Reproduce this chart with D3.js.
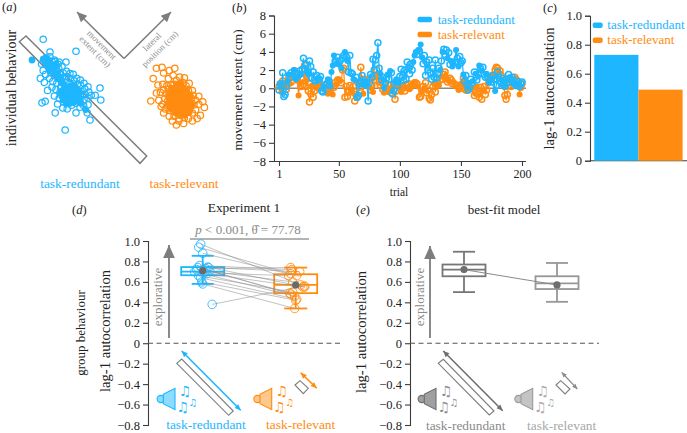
<!DOCTYPE html>
<html><head><meta charset="utf-8">
<style>html,body{margin:0;padding:0;background:#fff}svg{display:block}text{font-family:"Liberation Serif",serif}</style>
<script src="https://cdn.jsdelivr.net/npm/d3@7"></script></head><body><div id="c"></div>
<script>
const BLUE="#1db6ff",ORANGE="#ff8c10",GREY="#7d7d7d",AX="#3c3c3c";
const taskLabels=["task-redundant","task-relevant"];

// (a) scatter: lateral / extent offsets from each cluster's centre
const scatterRedundant=[[-6.2,12.2],[2,9.2],[-.7,-10.5],[8,0],[8.2,-3],[6.8,-1.8],[5.8,-1.8],[-6.5,-3.7],[-5.7,-3.3],[-3.2,-6.2],[2,-6.2],[4.8,-6.2],[5.5,-8],[5,-4.2],[-4.5,9],[-.5,6.5],[-2.2,6.5],
[-6.6,6],[-6.2,4.4],[-6.9,2.4],[-5.9,1.4],[-5.6,3.4],[-5.2,7.2],[-5,6],[-4.6,5],[-4.5,7.8],[-4,6.6],[-3.8,5.4],[-4.3,3.8],[-4.6,2.4],[-3.4,7],[-3.1,5.8],[-3,4.5],[-3.4,3.2],[-3.8,1.6],[-4,.2],[-5.1,-.6],[-2.5,6],[-2.3,4.8],[-2.1,3.6],[-2.4,2.4],[-2.8,1.2],[-3,-.4],[-3.4,-2],[-1.5,5.4],[-1.2,3.8],[-1.4,2.6],[-1.6,1.4],[-1.8,.2],[-2,-1],[-2.2,-2.6],[-2.6,-4],[-.4,4.2],[-.3,2.8],[-.5,1.4],[-.6,.2],[-.8,-1],[-1,-2.2],[-1.2,-3.4],[-1.3,-5],[.5,3.6],[.6,2.4],[.5,1.2],[.3,0],[.2,-1.2],[0,-2.4],[-.1,-3.6],[-.2,-5.2],[1.3,3.4],[1.5,1.8],[1.4,.6],[1.3,-.6],[1.1,-1.8],[1,-3],[.9,-4.3],[2.2,2.4],[2.4,1],[2.3,-.3],[2.2,-1.4],[2.1,-2.6],[2,-3.8],[3.1,2],[3.2,.6],[3.3,-.8],[3.1,-2],[2.9,-3.4],[3,-4.8],[4,1.2],[4.2,-.2],[4.2,-1.6],[4,-2.9],[3.9,-4.4],[5,.3],[5.2,-1],[5,-2.5],[-1,-.4],[0,-.8],[.8,-1.2],[1.6,-1.6],[-.6,-1.8],[.4,-2.4],[1.4,-2.8],[2.6,-1],[-.2,-.2],[-4.2,4.4],[-3.6,4],[-3.2,6.6],[-4.8,5.6]];
const scatterRedundantFilled=[[-9,7],[-5.4,6.2],[-5,5.4],[-4.5,6.4],[-4,5.8],[-4,4.8],[-3.5,5],[-4.8,6.8],[-3,3.8],[-1,-.8],[-.4,-1.6],[.3,-1],[1,-.8],[1.2,-1.8],[.4,-2],[-.2,-2.6],[.8,-2.8],[1.8,-1.4],[2,-.6],[-.6,-3.2],[.2,-3.4],[-1.2,-1.8],[1.6,-2.6],[-.1,-.4],[4.4,-5.4],[3.2,-3.8],
[-6.2,7.2],[-5.8,6.6],[-5.6,7.6],[-5.2,7],[-4.9,6.4],[-4.4,5.6],[-3.9,5.2],[-3.4,4.4],[-3.2,5.4],[-2.6,3.6],[-2.2,2.8],[-1.8,2.2],[-1.4,1.4],[-1,.8],[-.5,.2],[.4,.4],[1.2,.2],[2,-.2],[2.8,-1],[2.6,-2],[2.2,-2.8],[1.4,-3.4],[.6,-3.8],[-.4,-4],[-1.2,-3],[-1.6,-2],[-1.8,-1],[3.1,-2.7],[1.8,-3.4]];
const scatterRelevant=[[-6.8,-1],[-6.2,4.6],[-5.4,7.2],[-4,7.4],[-3.6,6],[-2.2,6.6],[-.8,7.2],[-5,3],[-5.4,1],[-3.8,3.2],[-3.6,1.8],[-2.4,4.6],[-1.2,5.4],[.4,5],[1.6,4.8],[2.8,3.4],[-4.8,-.8],[-4.2,-2.4],[-3.6,-4],[-3.3,-.4],[-2.4,2],[-1,3.2],[.6,3.4],[2,2.8],[3.6,1.6],[-2.6,-2.2],[-2.2,-4.8],[-1.4,-6],[-.4,-7],[.2,-5.4],[1.4,-6.6],[2.6,-5.4],[3.6,-6],[4.8,-5.4],[5.6,-4.6],[6.6,-2.6],[6.2,-1.2],[5.2,.2],[4.4,-.8],[4.4,-3.2],[3.6,-4],[2.6,-3],[3.2,-1.4],[2.2,.4],[1.2,1.8],[-.1,1.8],[-1.4,1.4],[-2.2,.2],[-1.6,-1],[-1.4,-3],[-.2,-4],[1,-4.2],[1.8,-2.4],[1,-.8],[-.1,-.2],[.6,.6],[-.8,.4],[-1,-2],[.2,-2.2],[-2.6,-1],[-3,.8],[3.8,.4],[-1.8,3],[-.4,4.2],[.8,-3],[2.2,-1.6],[-3.8,-1.8],[-2,-3.4],[4,-2],[5.2,-1.8],[3,-2.4],[1.6,-5.2],[.2,-6],[-1,-4.8],[2.6,1.6],[-2.8,2.8],[-1,2],[.2,2.8],[1.4,.6],[-.4,-1.2],[.6,-1.6],[-1.6,.2],[.1,.9],[2.9,.4],[3.4,-.4],[-3.2,-3],[1.2,3.6],[-4.4,1.2]];
const scatterRelevantFilled=[[-1.2,1],[-.6,1.8],[0,1.2],[.6,1.6],[1.2,1],[-1.2,-.2],[-.4,.2],[.4,.2],[1.2,.1],[2,.6],[-1.6,-1.4],[-.8,-.8],[0,-.9],[.8,-.6],[1.6,-.8],[2.4,-.6],[-1,-1.8],[-.2,-1.8],[.6,-2],[1.4,-1.6],[2.2,-2],[3,-1.2],[-1,-3],[-.2,-3],[.6,-3.2],[1.4,-3],[2.2,-3],[3,-3],[.2,-4.2],[1.2,-4],[2,-4],[-.4,2.6],[.6,2.6],[-1.6,2.2],
[-2.2,-.6],[-2.4,-2],[-1.8,-3],[3,.2],[3.4,-2],[2.8,-3.8],[1.6,-4.6],[.6,-4.6],[-.6,-4],[-.2,3.2],[.6,3.2],[1.4,2.2],[2.2,1.4],[-1.4,.6],[-2,1],[-2.4,.4]];

// (b) movement extent per trial
const trialTicks=[1,50,100,150,200];
const extentRedundant=[-.2,.5,.3,1.7,-.9,-.7,.2,.8,1.5,1.2,
1.7,1.5,2,1.8,1,1.6,1.3,1.9,1.5,2.1,
3.3,2.1,2.6,1.8,1.5,3,2.4,1.1,1.8,.9,
.8,1.4,1.1,1,1.3,-.3,-.4,.1,.3,.5,
1,.8,.2,1.8,2.5,3.6,3,2.7,3.4,2.6,
3,2.2,3.3,3.6,4,3.5,3,1.8,3.6,1.7,
1.6,1,.9,1.2,-1,-.8,.5,.7,1.4,.4,
.3,.8,.5,-1.4,.6,1.5,1.2,3.2,2,3.1,
3.6,5,2.2,1.6,.9,1.2,0,.6,1.1,1.5,
1,1.9,1.7,-.6,-.3,.7,1,.3,.6,1.3,
2.1,1.2,.9,2,1,2.9,2.2,1.6,2.7,2,
2.9,3.6,4,3.7,4.2,4.1,4.8,3.4,2.7,3.6,
1.4,2.9,2,3.1,1.7,1,2.2,1.2,3.1,1.1,
1.5,2.2,2,3,4,4.3,3.7,4.2,3.3,3.9,
2.6,3,2.4,2.7,2.9,4.2,3.3,2.4,3.5,2.8,
3,1.5,.8,1.4,.4,-.2,.1,1,.6,.8,
1.8,1.6,.9,1.3,2.5,2.2,1.9,2.3,1.5,1.2,
1.6,1.2,.6,.9,.7,1.4,1,-.3,.3,1.8,
1.2,.8,.5,1.1,.4,.2,1,.6,1.5,1.1,
.9,1.2,.7,.5,.3,.8,.4,.2,.5,.7];
const extentRelevant=[.2,.5,-.4,.8,.2,.6,-.1,.3,1.2,.5,
.7,1.4,1.2,2,1.5,.9,-.8,.6,.2,1,
.4,2.5,.2,.9,-.3,-1.5,-.6,.3,-1,-.3,
.1,.4,0,.6,.2,.3,-.3,.2,0,.4,
-.6,.2,-.5,.3,-.7,.1,.6,.4,.9,1,
.8,.6,2,2.2,-1,.2,-.9,-.4,.3,-.3,
-.5,.2,-1.4,-.7,-1,.4,.1,2.3,.6,-.6,
1,.5,.4,.9,.1,-.2,.3,-.4,1.3,.9,
2,1.5,.7,.3,.6,-.1,-.5,.4,0,-.4,
.3,-.2,-.5,.1,.4,-1.2,-.3,.2,0,.4,
-.4,.2,.3,-.3,0,.3,.5,-.1,.2,.3,
.4,.6,.7,.5,.2,-1,-.9,-.3,.2,0,
.6,-.5,-.2,-1.1,-1.3,-.7,.2,.5,-.4,.3,
.6,.3,.9,1.3,1,1.5,1.8,1.2,.7,.8,
1.1,.9,.5,.7,.4,.2,.3,-.2,.1,.5,
0,1.1,.4,-.2,-.3,.3,.1,-.1,.4,0,
-.8,-.5,.2,-.6,-1,.1,-1.2,-.3,.2,-.7,
-.2,.5,.8,1.3,1,1.5,1.4,2,2.3,2.2,
1.6,1.9,1.4,.9,.4,-.8,-1.2,-.7,.3,.6,
.2,.8,.5,1.2,1,.4,.7,-.7,.1,.5];
const filledRedundant=[8,9,12,13,15,17,19,24,25,33,38,41,43,44,45,46,48,50,52,55,57,62,63,70,71,72,73,84,87,90,92,96,97,99,111,112,113,115,117,118,133,135,139,142,143,144,146,148,152,160,162,164,165,167,171,173,178];
const filledRelevant=[2,3,6,8,10,14,17,18,24,28,31,33,36,38,41,43,45,48,50,51,60,61,66,70,72,75,78,85,87,90,92,94,98,99,100,101,103,105,108,110,113,115,118,120,128,130,132,134,138,140,144,146,148,150,153,155,158,160,163,168,172,176,184,193,198];

// (c) group autocorrelation
const barValues=[.73,.49];
const barTicks=[0,.2,.4,.6,.8,1];

// (d) paired participants
const pairsRedundant=[.97,.94,.88,.76,.74,.745,.74,.73,.72,.71,.70,.69,.68,.66,.64,.60,.58,.38];
const pairsRelevant=[.57,.68,.66,.72,.70,.55,.49,.74,.60,.48,.46,.66,.55,.50,.43,.42,.34,.56];
const jitterRedundant=[-2,-4,0,-3,6,5,-5,3,-6,7,-8,2,4,-4,-2,-1,0,9.5];
const jitterRelevant=[5,-5,1,-4,4,9,-6,-5,-3,-5,-1,-7,7,-3,1,0,-1,8.7];
const groupTicks=[-.8,-.6,-.4,-.2,0,.2,.4,.6,.8,1];
const boxExperiment=[{lo:.58,q1:.665,med:.70,q3:.745,hi:.855,mean:.71},{lo:.34,q1:.49,med:.57,q3:.675,hi:.74,mean:.57}];
const boxModel=[{lo:.50,q1:.655,med:.72,q3:.77,hi:.895,mean:.72},{lo:.405,q1:.53,med:.585,q3:.655,hi:.785,mean:.57}];

const svg=d3.select("#c").append("svg").attr("width",687).attr("height",433).attr("viewBox","0 0 687 433");
const T=(x,y,s,o={})=>{const t=svg.append("text").attr("x",x).attr("y",y).text(s)
 .attr("font-size",o.size||12).attr("fill",o.fill||"#222").attr("text-anchor",o.anchor||"middle");
 if(o.rot!=null)t.attr("transform",`rotate(${o.rot} ${x} ${y})`);return t;};
const PL=(x,y,l)=>{const t=svg.append("text").attr("x",x).attr("y",y).attr("font-size",12.5).attr("fill","#222");
 t.append("tspan").text("(");t.append("tspan").attr("font-style","italic").text(l);t.append("tspan").text(")");};
const fmt=d=>d===0?"0":(d<0?"\u2212":"")+Math.abs(d).toFixed(1);
const styleAxis=(g,size=12)=>{g.selectAll("path,line").attr("stroke",AX).attr("stroke-width",1.1);
 g.selectAll("text").attr("font-size",size).attr("fill","#222").style("font-family",'"Liberation Serif",serif');};
function arrow(x1,y1,x2,y2,c,w,head){
 svg.append("line").attr("x1",x1).attr("y1",y1).attr("x2",x2).attr("y2",y2).attr("stroke",c).attr("stroke-width",w);
 const a=Math.atan2(y2-y1,x2-x1);
 const tri=(x,y,a)=>svg.append("path").attr("fill",c).attr("d",d3.line()([[x,y],[x-head*Math.cos(a)+head*.45*Math.sin(a),y-head*Math.sin(a)-head*.45*Math.cos(a)],[x-head*Math.cos(a)-head*.45*Math.sin(a),y-head*Math.sin(a)+head*.45*Math.cos(a)]])+"Z");
 tri(x2,y2,a);return {both:()=>tri(x1,y1,a+Math.PI)};
}

// ---------- panel a
PL(2,11,"a");
T(13,88,"individual behaviour",{size:14,rot:-90}).attr("dominant-baseline","middle");
svg.append("path").attr("d","M19.3,41.7L26,36L146.7,156L140,163.3Z").attr("fill","none").attr("stroke",GREY).attr("stroke-width",1.5);
arrow(124,58.5,77,12,GREY,1.6,10);arrow(124,58.5,171,12,GREY,1.6,10);
T(99.7,47,"movement",{size:8.8,fill:"#8c8c8c",rot:45});
T(93,53.7,"extent (cm)",{size:8.8,fill:"#8c8c8c",rot:45});
T(154,44,"lateral",{size:8.8,fill:"#8c8c8c",rot:-45});
T(162,51,"position (cm)",{size:8.8,fill:"#8c8c8c",rot:-45});
const sx=d3.scaleLinear().domain([-10,10]).range([-40,40]),sy=d3.scaleLinear().domain([-10,10]).range([40,-40]);
function cloud(cx,cy,open,fill,c){
 const g=svg.append("g").attr("transform",`translate(${cx},${cy})`);
 g.append("g").selectAll("circle").data(open).join("circle").attr("cx",d=>sx(d[0])).attr("cy",d=>sy(d[1])).attr("r",3.2).attr("fill","none").attr("stroke",c).attr("stroke-width",1.25);
 g.append("g").selectAll("circle").data(fill).join("circle").attr("cx",d=>sx(d[0])).attr("cy",d=>sy(d[1])).attr("r",3.4).attr("fill",c);
}
cloud(68,88,scatterRedundant,scatterRedundantFilled,BLUE);
cloud(178,97,scatterRelevant,scatterRelevantFilled,ORANGE);
T(80,188,taskLabels[0],{size:13.4,fill:BLUE});
T(184,188,taskLabels[1],{size:13.4,fill:ORANGE});

// ---------- panel b
PL(232,12,"b");
const bx=d3.scaleLinear().domain([1,200]).range([279,522]),by=d3.scaleLinear().domain([-8,8]).range([161,15.5]);
svg.append("g").attr("transform","translate(274,0)").call(d3.axisLeft(by).tickValues(d3.range(-8,9,2)).tickSize(5).tickFormat(d=>d===0?"0":(d<0?"\u2212":"")+Math.abs(d))).call(g=>styleAxis(g,12.5));
svg.append("g").attr("transform","translate(0,161)").call(d3.axisBottom(bx).tickValues(trialTicks).tickSize(5).tickSizeOuter(0)).call(g=>{g.select("path").attr("d","M274,0.5H526");styleAxis(g,12);});
svg.append("line").attr("x1",274).attr("x2",526).attr("y1",by(0)).attr("y2",by(0)).attr("stroke","#8a8a8a").attr("stroke-width",1.5);
function series(vals,filled,c){
 const s=new Set(filled);const pts=vals.map((v,i)=>({t:i+1,v}));
 svg.append("path").datum(pts).attr("fill","none").attr("stroke",c).attr("stroke-width",1.2).attr("d",d3.line().x(d=>bx(d.t)).y(d=>by(d.v)));
 svg.append("g").selectAll("circle").data(pts).join("circle").attr("cx",d=>bx(d.t)).attr("cy",d=>by(d.v))
  .attr("r",3).attr("fill",d=>s.has(d.t)?c:"none").attr("stroke",c).attr("stroke-width",d=>s.has(d.t)?0:1.5);
}
series(extentRelevant,filledRelevant,ORANGE);
series(extentRedundant,filledRedundant,BLUE);
T(239,90,"movement extent (cm)",{size:13.4,rot:-90}).attr("dominant-baseline","middle");
T(399,196,"trial",{size:11.5});
function legend(sx0,w,tx,ys,h){
 [BLUE,ORANGE].forEach((c,i)=>{svg.append("rect").attr("x",sx0).attr("y",ys[i]-h/2).attr("width",w).attr("height",h).attr("rx",2).attr("fill",c);
  T(tx,ys[i]+4,taskLabels[i],{size:13,fill:c,anchor:"start"});});
}
legend(417.5,14.5,437.7,[19.5,34.5],5.5);

// ---------- panel c
PL(543,12,"c");
const cy=d3.scaleLinear().domain([0,1]).range([160.7,15.7]);
const cx=d3.scaleBand().domain(taskLabels).range([594.3,682.6]);
svg.append("g").attr("transform","translate(590,0)").call(d3.axisLeft(cy).tickValues(barTicks).tickSize(5).tickFormat(d=>d===0?"0":d.toFixed(1))).call(g=>styleAxis(g,12.5));
svg.append("line").attr("x1",590).attr("x2",687).attr("y1",160.7).attr("y2",160.7).attr("stroke",AX).attr("stroke-width",1.1);
svg.append("g").selectAll("rect").data(barValues).join("rect").attr("x",(d,i)=>cx(taskLabels[i])).attr("width",cx.bandwidth()).attr("y",d=>cy(d)).attr("height",d=>cy(0)-cy(d)).attr("fill",(d,i)=>[BLUE,ORANGE][i]);
T(551,88.5,"lag-1 autocorrelation",{size:14.6,rot:-90}).attr("dominant-baseline","middle");
legend(592.7,10,607.3,[25.2,40.2],5.5);

// ---------- panels d / e shared
const gy=d3.scaleLinear().domain([-.8,1]).range([425,241]);
function gAxis(x,x2){
 svg.append("g").attr("transform",`translate(${x},0)`).call(d3.axisLeft(gy).tickValues(groupTicks).tickSize(5).tickFormat(fmt)).call(g=>styleAxis(g,12.5));
 svg.append("line").attr("x1",x).attr("x2",x2).attr("y1",gy(0)).attr("y2",gy(0)).attr("stroke","#555").attr("stroke-width",1.1).attr("stroke-dasharray","5 3.5");
}
function box(x,b,c,w,capw,sw){
 const g=svg.append("g").attr("fill","none").attr("stroke",c).attr("stroke-width",sw);
 g.append("line").attr("x1",x).attr("x2",x).attr("y1",gy(b.lo)).attr("y2",gy(b.hi));
 [b.lo,b.hi].forEach(v=>g.append("line").attr("x1",x-capw/2).attr("x2",x+capw/2).attr("y1",gy(v)).attr("y2",gy(v)));
 g.append("rect").attr("x",x-w/2).attr("width",w).attr("y",gy(b.q3)).attr("height",gy(b.q1)-gy(b.q3)).attr("fill","#fff");
 g.append("line").attr("x1",x-w/2).attr("x2",x+w/2).attr("y1",gy(b.med)).attr("y2",gy(b.med));
}
function speaker(dx,c,fill,note){
 svg.append("circle").attr("cx",160.7+dx).attr("cy",399).attr("r",3.6).attr("fill",fill).attr("stroke",c).attr("stroke-width",1.1);
 svg.append("path").attr("d",`M${163.3+dx},394.3L${175+dx},388.3V409.7L${163.3+dx},403.7Z`).attr("fill",fill).attr("stroke",c).attr("stroke-width",1.1);
 [[185,396,14],[193,405.5,10],[182.7,411.7,14]].forEach(n=>T(n[0]+dx,n[1],"\u266B",{size:n[2],fill:note}).style("font-family","DejaVu Sans"));
}
function slot(p){svg.append("path").attr("d",d3.line()(p)+"Z").attr("fill","#fff").attr("stroke",GREY).attr("stroke-width",1.1);}

// ---------- panel d
PL(72,214,"d");
T(244,212,"Experiment 1",{size:13.4});
const pt=T(248,234,"",{size:13,fill:"#8a8a8a"});
pt.append("tspan").attr("font-style","italic").text("p");
pt.append("tspan").text(" < 0.001, \u03B8\u0302 = 77.78");
svg.append("line").attr("x1",190).attr("x2",309).attr("y1",239).attr("y2",239).attr("stroke","#9a9a9a").attr("stroke-width",1.5);
gAxis(148,340);
const dx=d3.scalePoint().domain(taskLabels).range([202.7,295.7]);
const xa=dx(taskLabels[0]),xb=dx(taskLabels[1]);
box(xa,boxExperiment[0],BLUE,43,22,1.8);box(xb,boxExperiment[1],ORANGE,43,23,1.8);
svg.append("g").selectAll("line").data(pairsRedundant).join("line")
 .attr("x1",(d,i)=>xa+jitterRedundant[i]).attr("x2",(d,i)=>xb+jitterRelevant[i]).attr("y1",d=>gy(d)).attr("y2",(d,i)=>gy(pairsRelevant[i]))
 .attr("stroke","#8f8f8f").attr("stroke-width",.9).attr("opacity",.6);
const rings=(vals,jit,x,c)=>svg.append("g").selectAll("circle").data(vals).join("circle").attr("cx",(d,i)=>x+jit[i]).attr("cy",d=>gy(d)).attr("r",4.3).attr("fill","none").attr("stroke",c).attr("stroke-width",1).attr("opacity",.85);
rings(pairsRedundant,jitterRedundant,xa,BLUE);rings(pairsRelevant,jitterRelevant,xb,ORANGE);
[[xa,boxExperiment[0]],[xb,boxExperiment[1]]].forEach(([x,b])=>svg.append("circle").attr("cx",x).attr("cy",gy(b.mean)).attr("r",3.6).attr("fill","#6a6a6a"));
T(159,297,"explorative",{size:13,fill:"#8a8a8a",rot:-90}).attr("dominant-baseline","middle");
arrow(169,338,169,245,GREY,1.8,13);
T(82,333,"group behaviour",{size:13,rot:-90}).attr("dominant-baseline","middle");
T(107,331,"lag-1 autocorrelation",{size:14.6,rot:-90}).attr("dominant-baseline","middle");
slot([[176.7,363.3],[181.7,359],[233.3,411],[228.7,415.3]]);
arrow(181.7,351,240.7,410.3,BLUE,1.6,6).both();
speaker(0,BLUE,"#8ddcff",BLUE);
slot([[295,385],[300,380.7],[308.3,388.3],[303.3,393.7]]);
arrow(300.7,372.7,316.7,388.3,ORANGE,1.6,6).both();
speaker(96.7,ORANGE,"#ffc88c",ORANGE);
T(206,429,taskLabels[0],{size:13.4,fill:BLUE});
T(300.7,429,taskLabels[1],{size:13.4,fill:ORANGE});

// ---------- panel e
PL(356,214,"e");
T(504,214,"best-fit model",{size:13});
gAxis(410,599);
const ex=d3.scalePoint().domain(taskLabels).range([464,557]);
const xc=ex(taskLabels[0]),xd=ex(taskLabels[1]);
box(xc,boxModel[0],"#767676",43,22,1.8);box(xd,boxModel[1],"#979797",43,22,1.8);
svg.append("line").attr("x1",xc).attr("x2",xd).attr("y1",gy(boxModel[0].mean)).attr("y2",gy(boxModel[1].mean)).attr("stroke","#8a8a8a").attr("stroke-width",1);
[[xc,boxModel[0]],[xd,boxModel[1]]].forEach(([x,b])=>svg.append("circle").attr("cx",x).attr("cy",gy(b.mean)).attr("r",3.6).attr("fill","#6e6e6e"));
T(421,297,"explorative",{size:13,fill:"#8a8a8a",rot:-90}).attr("dominant-baseline","middle");
arrow(430,338,430,246,GREY,1.8,13);
T(363,332,"lag-1 autocorrelation",{size:14.6,rot:-90}).attr("dominant-baseline","middle");
slot([[438.3,363.3],[443.3,359.3],[494,411],[489.3,415]]);
arrow(443.3,351,502.7,410.7,"#6f6f6f",1.6,6).both();
speaker(261,"#6f6f6f","#a0a0a0","#8a8a8a");
slot([[556,385],[560.7,380.7],[570,389],[565,394]]);
arrow(561.7,372.3,577.3,389,"#8a8a8a",1.2,5).both();
speaker(357.7,"#9a9a9a","#c4c4c4","#a8a8a8");
T(465.7,430,taskLabels[0],{size:13.4,fill:"#8a8a8a"});
T(561.7,430,taskLabels[1],{size:13.4,fill:"#a8a8a8"});
</script></body></html>
